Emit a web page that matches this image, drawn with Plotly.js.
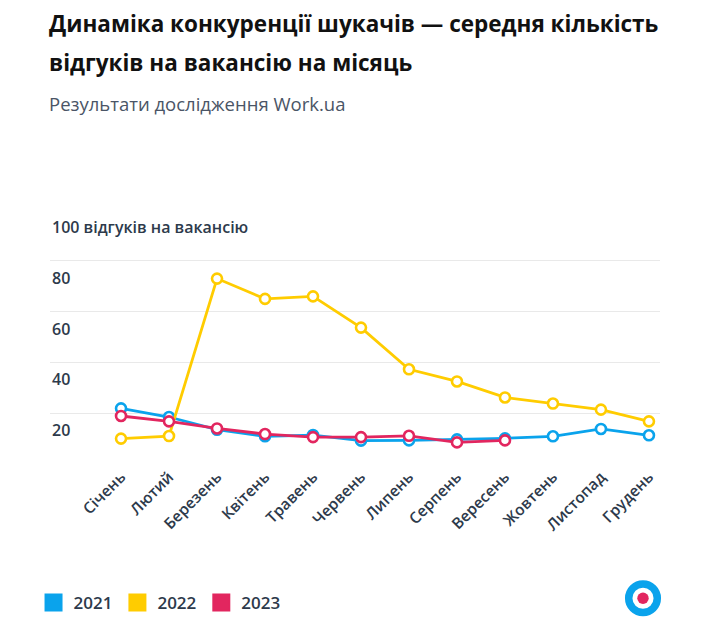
<!DOCTYPE html>
<html>
<head>
<meta charset="utf-8">
<script src="https://cdn.plot.ly/plotly-3.0.1.min.js"></script>
<style>html,body{margin:0;padding:0;background:#fff;}#chart{width:702px;height:642px;}</style>
</head>
<body>
<div id="chart"></div>
<script>
const months = ["Січень","Лютий","Березень","Квітень","Травень","Червень","Липень","Серпень","Вересень","Жовтень","Листопад","Грудень"];
const values2021 = [21.9, 18.5, 13.5, 10.9, 11.4, 9.2, 9.3, 9.7, 10.1, 10.9, 13.8, 11.3];
const values2022 = [10.0, 11.0, 73.0, 65.0, 66.0, 53.7, 37.3, 32.5, 26.2, 23.8, 21.4, 16.8];
const values2023 = [18.9, 16.8, 14.0, 11.8, 10.6, 10.6, 11.1, 8.5, 9.3];
const seriesNames = ["2021","2022","2023"];
const yTickVals = [0, 20, 40, 60, 80, 100];
const yTickText = ["", "20", "40", "60", "80", "100 відгуків на вакансію"];

const colors = ["#0aa3ec", "#ffcc00", "#e2265f"];
const FONT = "'Open Sans', Roboto, sans-serif";
const TXT = "#2d3a4b";

function lineTrace(y, i) {
  return {
    x: months.slice(0, y.length), y: y, type: "scatter", mode: "lines+markers",
    name: seriesNames[i], showlegend: false, cliponaxis: false,
    line: {color: colors[i], width: 2.8},
    marker: {symbol: "circle", size: 10, color: "#ffffff", line: {color: colors[i], width: 2.6}},
    hoverinfo: "x+y+name"
  };
}
function legendTrace(i) {
  return {
    x: [null], y: [null], type: "scatter", mode: "markers", name: seriesNames[i],
    marker: {symbol: "square", size: 16, color: colors[i], line: {color: colors[i], width: 2}},
    showlegend: true
  };
}

const data = [
  lineTrace(values2021, 0), lineTrace(values2022, 1), lineTrace(values2023, 2),
  legendTrace(0), legendTrace(1), legendTrace(2)
];

const yLabelAnnots = yTickVals.map((v, k) => ({
  xref: "paper", yref: "y", x: 0, xanchor: "left", y: v, yanchor: "middle", yshift: -17,
  text: yTickText[k], showarrow: false,
  font: {size: 16, color: TXT, family: FONT, weight: 600}
})).filter(a => a.text !== "");

const layout = {
  width: 702, height: 642,
  margin: {l: 50, r: 42, t: 210, b: 178},
  paper_bgcolor: "#ffffff", plot_bgcolor: "#ffffff",
  font: {family: FONT, color: TXT, size: 15},
  showlegend: true,
  legend: {orientation: "h", x: -0.027, xanchor: "left", y: -0.547, yanchor: "middle",
           font: {size: 17, color: TXT, family: FONT, weight: 600}, itemclick: false, traceorder: "normal"},
  xaxis: {
    type: "category", categoryarray: months, range: [-1.48, 11.23],
    showgrid: false, zeroline: false, showline: false, ticks: "",
    tickangle: -45, tickfont: {size: 15.5, color: TXT, family: FONT, weight: 600}
  },
  yaxis: {
    range: [0, 100], tickvals: yTickVals, showticklabels: false,
    showgrid: true, gridcolor: "#e9e9e9", gridwidth: 1, zeroline: false, showline: false, ticks: ""
  },
  annotations: [
    {xref: "paper", yref: "paper", x: -0.005, xanchor: "left", y: 1, yanchor: "middle", yshift: 187,
     text: "<b>Динаміка конкуренції шукачів — середня кількість</b>", showarrow: false,
     font: {size: 22.5, color: "#111111", family: FONT}},
    {xref: "paper", yref: "paper", x: -0.005, xanchor: "left", y: 1, yanchor: "middle", yshift: 148,
     text: "<b>відгуків на вакансію на місяць</b>", showarrow: false,
     font: {size: 22.5, color: "#111111", family: FONT}},
    {xref: "paper", yref: "paper", x: -0.005, xanchor: "left", y: 1, yanchor: "middle", yshift: 107,
     text: "Результати дослідження Work.ua", showarrow: false,
     font: {size: 18.5, color: "#4a5566", family: FONT}}
  ].concat(yLabelAnnots),
  shapes: [
    {type: "circle", xref: "paper", yref: "paper", xsizemode: "pixel", ysizemode: "pixel",
     xanchor: 1.0, yanchor: 0, x0: -31.3, x1: -2.7, y0: -148.6, y1: -120,
     line: {color: "#0aa3ec", width: 7.5}, fillcolor: "#ffffff"},
    {type: "circle", xref: "paper", yref: "paper", xsizemode: "pixel", ysizemode: "pixel",
     xanchor: 1.0, yanchor: 0, x0: -22.7, x1: -11.3, y0: -140, y1: -128.6,
     line: {width: 0}, fillcolor: "#e2265f"}
  ]
};

Plotly.newPlot("chart", data, layout, {displayModeBar: false, responsive: false});
</script>
</body>
</html>
